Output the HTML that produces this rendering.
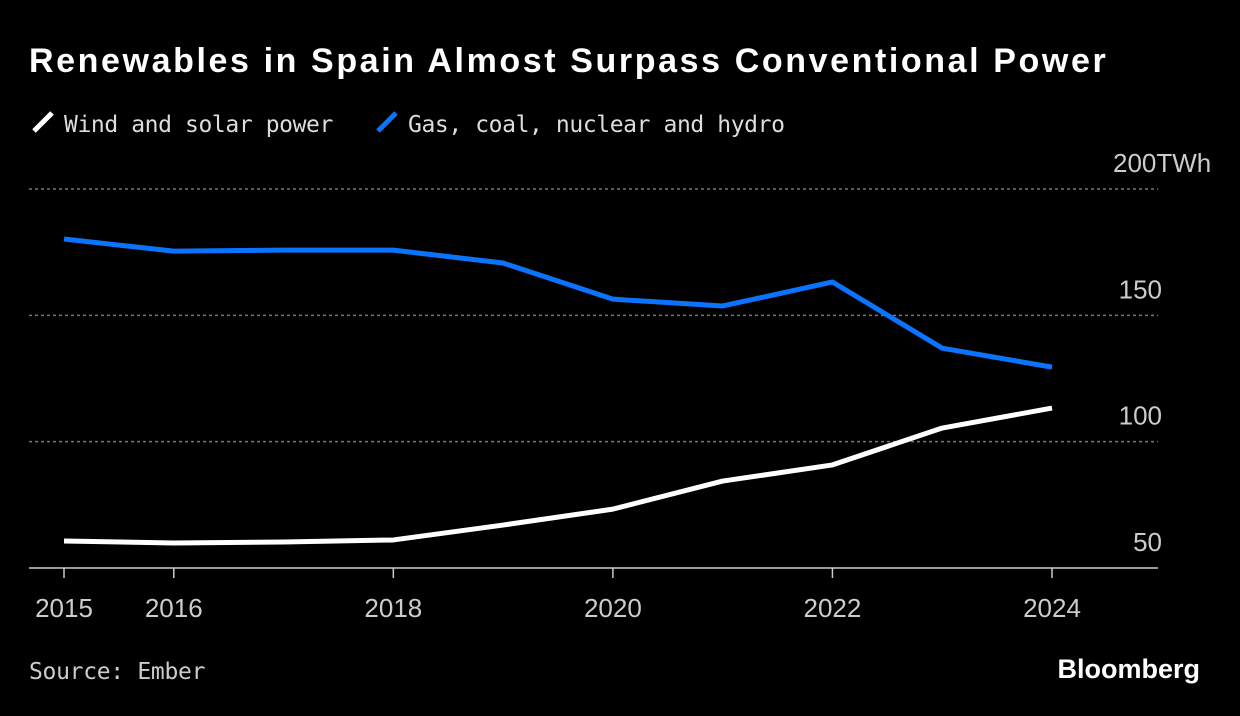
<!DOCTYPE html>
<html><head><meta charset="utf-8"><style>
body{margin:0;background:#000;width:1240px;height:716px;overflow:hidden;font-family:"Liberation Sans",sans-serif;color:#fff}
.t{position:absolute;left:29px;top:42px;font-size:34px;font-weight:bold;letter-spacing:2.6px;white-space:nowrap}
.lg{position:absolute;top:109px;font-family:"DejaVu Sans Mono","Liberation Mono",monospace;font-size:23px;letter-spacing:-0.4px;color:#ddd;white-space:nowrap}
.src{position:absolute;left:29px;top:659px;font-family:"DejaVu Sans Mono",monospace;font-size:23px;letter-spacing:-0.3px;color:#ccc}
.bb{position:absolute;right:40px;top:654px;font-size:27px;font-weight:bold}
</style></head><body>
<div class="t">Renewables in Spain Almost Surpass Conventional Power</div>
<div class="lg" style="left:30px"><svg width="34" height="26" style="vertical-align:-3px"><line x1="4" y1="22" x2="22" y2="4" stroke="#fff" stroke-width="5"/></svg>Wind and solar power</div>
<div class="lg" style="left:374px"><svg width="34" height="26" style="vertical-align:-3px"><line x1="4" y1="22" x2="22" y2="4" stroke="#0a74ff" stroke-width="5"/></svg>Gas, coal, nuclear and hydro</div>
<svg id="c" width="1240" height="716" style="position:absolute;left:0;top:0"></svg>
<div class="src">Source: Ember</div>
<div class="bb">Bloomberg</div>
<script>
const years=[2015,2016,2017,2018,2019,2020,2021,2022,2023,2024];
const windSolar=[60.7,59.9,60.3,61.1,67,73.3,84.4,90.8,105.4,113.3];
const conventional=[180.2,175.4,175.8,175.8,170.7,156.4,153.7,163.2,137,129.5];
const yTicks=[50,100,150,200];
const xTicks=[2015,2016,2018,2020,2022,2024];
const ns="http://www.w3.org/2000/svg",svg=document.getElementById('c');
const x=v=>64+(v-2015)*(1052-64)/9;
const y=v=>568-(v-50)*(568-189)/150;
function mk(t,a){const e=document.createElementNS(ns,t);for(const k in a)e.setAttribute(k,a[k]);svg.appendChild(e);return e;}
yTicks.forEach(v=>{
 if(v>50){const g=mk('line',{x1:29,x2:1158,y1:y(v),y2:y(v),stroke:'#777','stroke-width':1.5,'stroke-dasharray':'3,3'});
 
 }
 const t=mk('text',{x:1162,y:y(v)-17,'text-anchor':'end','font-size':26,fill:'#ccc','font-family':'Liberation Sans,sans-serif'});
 t.textContent=v===200?'':v;
 if(v===200){t.setAttribute('x',1113);t.setAttribute('text-anchor','start');t.textContent='200TWh';}
 
 
});
const ax=mk('line',{x1:29,x2:1158,y1:568,y2:568,stroke:'#ccc','stroke-width':1.5});


xTicks.forEach(v=>{
 const tk=mk('line',{x1:x(v),x2:x(v),y1:568,y2:578,stroke:'#ccc','stroke-width':1.5});
 
 
 const t=mk('text',{x:x(v),y:617,'text-anchor':'middle','font-size':26,fill:'#ccc','font-family':'Liberation Sans,sans-serif'});
 t.textContent=v;
 
 
});
function line(d,c,n){const p=mk('polyline',{points:d.map((v,i)=>x(years[i])+','+y(v)).join(' '),fill:'none',stroke:c,'stroke-width':5,'stroke-linejoin':'round'});
 
 }
line(conventional,'#0a74ff','conventional-line');
line(windSolar,'#fff','wind-solar-line');
</script>
</body></html>
